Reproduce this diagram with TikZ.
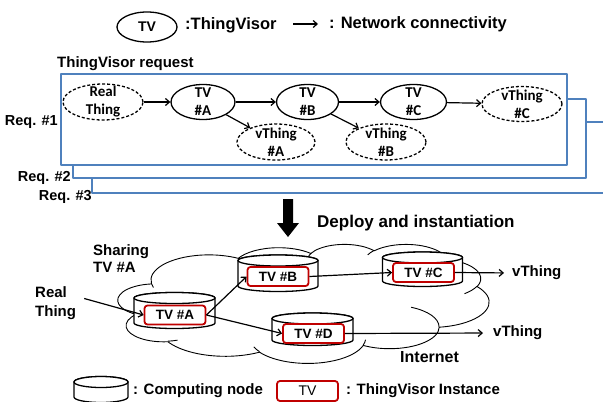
\documentclass[tikz,border=0pt]{standalone}
\usepackage{fontspec}
\setmainfont{Liberation Sans}
\newfontfamily\calibri{Carlito}
\usetikzlibrary{arrows.meta,shapes.geometric}

\definecolor{reqblue}{RGB}{79,129,189}
\definecolor{tvred}{RGB}{192,0,0}

% DrawingML-style arc: radii #1,#2, start angle #3, sweep #4 (visual angles)
% gives the parametric start/end angles in \cldS and \cldE
\newcommand\cldarc[4]{%
  \pgfmathsetmacro\cldS{atan2((#1)*sin(#3),(#2)*cos(#3))}%
  \pgfmathsetmacro\cldE{atan2((#1)*sin((#3)+(#4)),(#2)*cos((#3)+(#4)))}%
  \pgfmathsetmacro\cldE{\cldE+360*round((\cldS+(#4)-\cldE)/360)}%
}

% computing node: centre x, half width, top rim y, bottom rim y
\newcommand\compnode[4]{%
  \path[cylline] (#1-#2,#3) -- (#1-#2,#4)
    arc[start angle=180,end angle=0,x radius=#2,y radius=5.5]
    -- (#1+#2,#3)
    arc[start angle=0,end angle=-180,x radius=#2,y radius=5.5] -- cycle;
  \draw[cylline] (#1,#3) ellipse[x radius=#2,y radius=5.5];
}

\begin{document}
\begin{tikzpicture}[x=1pt,y=-1pt,line join=round,
  txt/.style={font=\bfseries\fontsize{15}{17}\selectfont, inner sep=0pt, align=left},
  legtxt/.style={font=\bfseries\fontsize{16.5}{18}\selectfont, inner sep=0pt},
  reqtxt/.style={font=\bfseries\fontsize{14.5}{16}\selectfont, inner sep=0pt},
  reqbox/.style={draw=reqblue, fill=white, line width=1.4pt},
  ellbase/.style={ellipse, draw, line width=1.3pt, inner sep=0pt, fill=white},
  tvoval/.style={ellbase},
  thingoval/.style={ellbase, dash pattern=on 3pt off 2pt},
  inner/.style={font=\calibri\bfseries\fontsize{15}{18}\selectfont, align=center, inner sep=0pt},
  link/.style={draw, line width=1.2pt, -{Straight Barb[length=4pt,width=7pt]}},
  tvinst/.style={draw=tvred, rounded corners=3pt, line width=1.8pt, fill=white,
    minimum width=61pt, minimum height=19pt, inner sep=0pt,
    font=\bfseries\fontsize{13.5}{15}\selectfont},
  cylline/.style={draw, fill=white, line width=1.3pt},
  cloudline/.style={draw, line width=0.9pt},
  cld/.style n args={4}{/utils/exec={\cldarc{#1}{#2}{#3}{#4}},
    insert path={arc[start angle=\cldS,end angle=\cldE,x radius=#1,y radius=#2]}}
]
\useasboundingbox (0,0) rectangle (603,402);

% ---------- legend ----------
\node[tvoval, minimum width=60pt, minimum height=30pt,
  label={[font=\bfseries\fontsize{14}{16}\selectfont]center:TV}] (legtv) at (147,27) {};
\node[legtxt, anchor=west] (legtvtxt) at (185,25) {:ThingVisor};
\coordinate (legA) at (293,24);
\coordinate (legB) at (318,24);
\draw[link] (legA) -- (legB);
\node[legtxt, anchor=west] (legnet) at (329,24) {: Network connectivity};

% ---------- ThingVisor requests ----------
\node[txt, anchor=west] (reqtitle) at (57,64) {ThingVisor request};
\draw[reqbox] (92,122) rectangle (615,193);
\draw[reqbox] (73,99) rectangle (586,178);
\draw[reqbox] (61,74) rectangle (567,165);
\node[reqtxt, anchor=east] (req1) at (58,122) {Req. \#1};
\node[reqtxt, anchor=east] (req2) at (71,178) {Req. \#2};
\node[reqtxt, anchor=east] (req3) at (92,197) {Req. \#3};

\node[thingoval, minimum width=80pt, minimum height=36pt,
  label={[inner]center:Real\\Thing}] (real) at (103,102) {};
\node[tvoval, minimum width=64pt, minimum height=35pt,
  label={[inner]center:TV\\\#A}] (tva) at (203,102) {};
\node[tvoval, minimum width=62pt, minimum height=35pt,
  label={[inner]center:TV\\\#B}] (tvb) at (307.5,102) {};
\node[tvoval, minimum width=66pt, minimum height=35pt,
  label={[inner]center:TV\\\#C}] (tvc) at (413.5,102) {};
\node[thingoval, minimum width=80pt, minimum height=35pt,
  label={[inner]center:vThing\\\#C}] (vtc) at (522,104) {};
\node[thingoval, minimum width=78pt, minimum height=36pt,
  label={[inner]center:vThing\\\#A}] (vta) at (276,142) {};
\node[thingoval, minimum width=80pt, minimum height=36pt,
  label={[inner]center:vThing\\\#B}] (vtb) at (386,142) {};

\draw[link] (real) -- (tva);
\draw[link] (tva) -- (tvb);
\draw[link] (tvb) -- (tvc);
\draw[link] (tvc) -- (vtc);
\draw[link] (tva) -- (vta);
\draw[link] (tvb) -- (vtb);

% ---------- deployment ----------
\fill (283,199) -- (293,199) -- (293,223) -- (299,223) -- (288,237)
  -- (277,223) -- (283,223) -- cycle;
\node[txt, anchor=west, font=\bfseries\fontsize{17}{19}\selectfont] (deploy)
  at (317,223) {Deploy and instantiation};

% Internet cloud
\begin{scope}[xshift=118pt, yshift=-244pt, x=0.858796pt, y=-0.275463pt]
  \path[cloudline, fill=white] (39.00,143.70)
    [cld={67.53}{91.90}{-190.487}{123.781}]
    [cld={53.33}{72.67}{-144.102}{89.945}]
    [cld={43.65}{59.45}{-145.808}{99.723}]
    [cld={48.57}{65.95}{-130.986}{117.242}]
    [cld={53.33}{72.73}{-78.709}{109.027}]
    [cld={67.75}{92.20}{-46.267}{130.269}]
    [cld={57.85}{78.67}{0.625}{114.033}]
    [cld={67.52}{92.15}{22.452}{115.173}]
    [cld={77.20}{105.43}{66.243}{75.711}]
    [cld={43.60}{59.18}{-274.942}{146.736}]
    [cld={43.45}{59.45}{-246.829}{152.519}] -- cycle;
  \path[cloudline] (46.93,261.77) [cld={43.45}{59.45}{86.742}{26.430}];
  \path[cloudline] (69.28,348.99) [cld={43.60}{59.18}{73.610}{11.447}];
  \path[cloudline] (164.78,390.90) [cld={67.52}{92.15}{137.624}{14.081}];
  \path[cloudline] (288.27,347.51) [cld={67.52}{92.15}{6.453}{15.998}];
  \path[cloudline] (341.29,229.54) [cld={57.85}{78.67}{-70.292}{70.917}];
  \path[cloudline] (417.98,153.54) [cld={53.33}{72.73}{30.318}{27.752}];
  \path[cloudline] (383.24,54.26) [cld={48.57}{65.95}{-13.744}{14.859}];
  \path[cloudline] (290.78,39.52) [cld={48.57}{65.95}{-149.181}{18.195}];
  \path[cloudline] (221.41,47.20) [cld={43.65}{59.45}{-163.494}{17.686}];
  \path[cloudline] (140.00,51.92) [cld={67.53}{91.90}{-66.707}{12.319}];
  \path[cloudline] (41.27,157.89) [cld={67.53}{91.90}{157.654}{11.858}];
\end{scope}

\compnode{174.5}{40.5}{298}{323}
\compnode{278}{40}{260.5}{286}
\compnode{422.5}{40}{257.5}{281}
\compnode{312.5}{40.5}{318.5}{340}

\node[tvinst] (ta) at (175,315) {TV \#A};
\node[tvinst] (tb) at (278,276.5) {TV \#B};
\node[tvinst] (tc) at (423.5,272.5) {TV \#C};
\node[tvinst] (td) at (313.5,333.5) {TV \#D};

\node[txt, anchor=west] (sharing) at (93,258.5) {Sharing\\TV \#A};
\node[txt, anchor=west, font=\bfseries\fontsize{15}{19}\selectfont] (rtl)
  at (35,303.5) {Real\\Thing};
\node[txt, anchor=west] (vt1) at (512,273) {vThing};
\node[txt, anchor=west] (vt2) at (493,333) {vThing};
\node[txt, anchor=west, font=\bfseries\fontsize{16}{18}\selectfont] (inet)
  at (400,357) {Internet};

\draw[link] ([xshift=8pt,yshift=5pt]rtl.east) -- (ta.west);
\draw[link] (ta.east) -- (tb.west);
\draw[link] (ta.east) -- (td.west);
\draw[link] (tb.east) -- (tc.west);
\draw[link, shorten >=8pt] (tc.east) -- (vt1.west);
\draw[link, shorten >=10pt] (td.east) -- (vt2.west);

% ---------- bottom legend ----------
\compnode{101}{27}{382}{397}
\node[txt, anchor=west] (legcomp) at (133,391) {: Computing node};
\node[tvinst, minimum height=20pt, font=\fontsize{14}{16}\selectfont] (legins)
  at (307.5,391) {TV};
\node[txt, anchor=west] (leginst) at (346,391) {: ThingVisor Instance};
\end{tikzpicture}
\end{document}
